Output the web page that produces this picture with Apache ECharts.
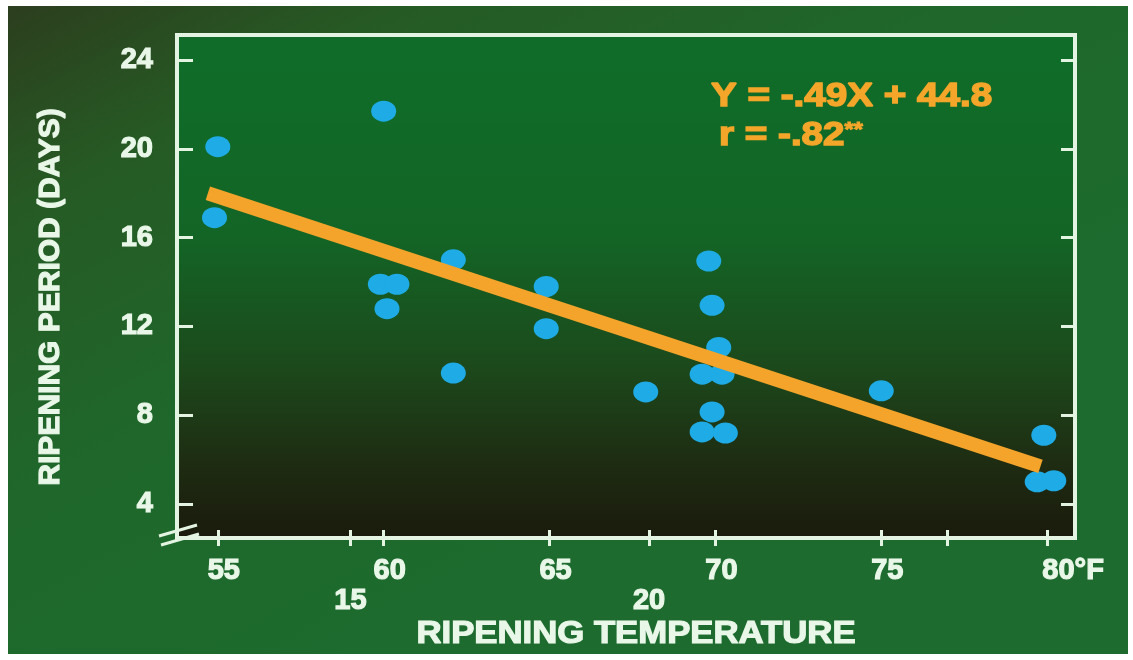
<!DOCTYPE html>
<html><head><meta charset="utf-8">
<script src="https://cdn.jsdelivr.net/npm/echarts@6/dist/echarts.min.js"></script>
<style>html,body{margin:0;padding:0;background:#fff}#c{width:1133px;height:660px}</style>
</head><body><div id="c"></div>
<script>
// Data
const tempF = [55.0, 54.9, 60.0, 59.9, 60.4, 60.1, 62.1, 62.1, 64.9, 64.9, 67.9, 69.8, 69.9, 70.1, 69.6, 70.2, 69.9, 69.6, 70.3, 75.0, 79.9, 79.7, 80.2];
const days  = [20.1, 16.9, 21.7, 13.9, 13.9, 12.8, 15.0, 9.9, 13.8, 11.9, 9.05, 14.95, 12.95, 11.05, 9.85, 9.85, 8.15, 7.25, 7.2, 9.1, 7.1, 5.0, 5.05];
const fitX = [54.7, 79.8];
const fitY = [18.0, 5.7];
const fTicks = [55, 59, 60, 65, 68, 70, 75, 77, 80];
const fLabels = [55, 60, 65, 70, 75, 80];
const cLabelsAt = [59, 68];
const cLabelText = {59: '15', 68: '20'};
const yTicks = [4, 8, 12, 16, 20, 24];
const equation = 'Y = -.49X + 44.8';
const rText = 'r = -.82';
const rStars = '**';
const xTitle = 'RIPENING TEMPERATURE';
const yTitle = 'RIPENING PERIOD (DAYS)';

const FONT = '"Liberation Sans", Arial, sans-serif';
const TXT = '#e9f7e8';
const AX = '#e4f4e2';
const ORANGE = '#f3a629';

const chart = echarts.init(document.getElementById('c'));
const points = tempF.map((x, i) => [x, days[i]]);
const fit = fitX.map((x, i) => [x, fitY[i]]);

const lblBase = {fontFamily: FONT, fontWeight: 'bold', fontSize: 29, color: TXT,
  textBorderColor: TXT, textBorderWidth: 1.2};

chart.setOption({
  backgroundColor: '#ffffff',
  animation: false,
  graphic: [
    {type: 'rect', z: -10, silent: true, shape: {x: 8, y: 6, width: 1120, height: 648},
      style: {fill: new echarts.graphic.LinearGradient(0, 0, 0.3, 1, [
        {offset: 0, color: '#2c3e1e'}, {offset: 0.25, color: '#265a24'},
        {offset: 0.6, color: '#1f672b'}, {offset: 1, color: '#1d6b2e'}])}},
    {type: 'text', x: 711, y: 97, scaleX: 1.17, z: 20, style: {text: equation, fill: ORANGE,
      font: 'bold 33px ' + FONT, verticalAlign: 'middle', stroke: ORANGE, lineWidth: 1.5}},
    {type: 'text', x: 719, y: 136, scaleX: 1.17, z: 20, style: {text: '{a|' + rText + '}{s|' + rStars + '}',
      verticalAlign: 'middle',
      rich: {a: {font: 'bold 33px ' + FONT, fill: ORANGE, stroke: ORANGE, lineWidth: 1.5},
             s: {font: 'bold 20px ' + FONT, fill: ORANGE, stroke: ORANGE, lineWidth: 1, padding: [0, 0, 12, 0]}}}},
    {type: 'text', x: 636, y: 634, scaleX: 1.12, z: 20, style: {text: xTitle, fill: TXT,
      font: 'bold 31px ' + FONT, align: 'center', verticalAlign: 'middle',
      stroke: TXT, lineWidth: 1.2}},
    {type: 'text', x: 51, y: 297, rotation: Math.PI / 2, z: 20, style: {text: yTitle, fill: TXT,
      font: 'bold 30px ' + FONT, align: 'center', verticalAlign: 'middle',
      stroke: TXT, lineWidth: 1.2}},
    {type: 'line', z: 20, shape: {x1: 159, y1: 536, x2: 197, y2: 525},
      style: {stroke: AX, lineWidth: 3}},
    {type: 'line', z: 20, shape: {x1: 161, y1: 545, x2: 199, y2: 534},
      style: {stroke: AX, lineWidth: 3}}
  ],
  grid: {left: 177, right: 58, top: 35, bottom: 122, show: true,
    borderColor: AX, borderWidth: 4,
    backgroundColor: new echarts.graphic.LinearGradient(0, 0, 0, 1, [
      {offset: 0, color: '#0f6d29'}, {offset: 0.4, color: '#136526'},
      {offset: 0.65, color: '#1c4a1c'}, {offset: 0.85, color: '#1e2c12'},
      {offset: 1, color: '#1a1a0c'}])},
  xAxis: [
    {type: 'value', min: 53.77, max: 80.84, position: 'bottom',
      axisLine: {show: true, lineStyle: {color: AX, width: 4}},
      splitLine: {show: false},
      axisTick: {show: true, inside: true, length: 8, customValues: fTicks,
        lineStyle: {color: AX, width: 3}},
      axisLabel: {show: true, customValues: fLabels, margin: 18,
        formatter: v => v === 80 ? '{e|80°F}' : '{n|' + v + '}',
        rich: {n: Object.assign({}, lblBase, {padding: [0, 0, 0, 12]}),
               e: Object.assign({}, lblBase, {padding: [0, 0, 0, 52]})}}},
    {type: 'value', min: 53.77, max: 80.84, position: 'bottom',
      axisLine: {show: false}, splitLine: {show: false},
      axisTick: {show: true, inside: false, length: 8, customValues: fTicks,
        lineStyle: {color: AX, width: 3}},
      axisLabel: {show: true, customValues: cLabelsAt, margin: 48,
        formatter: v => cLabelText[v] || '', ...lblBase}}
  ],
  yAxis: [
    {type: 'value', min: 2.47, max: 25.13, position: 'left',
      axisLine: {show: true, lineStyle: {color: AX, width: 4}},
      splitLine: {show: false},
      axisTick: {show: true, inside: true, length: 16, customValues: yTicks,
        lineStyle: {color: AX, width: 3}},
      axisLabel: {show: true, customValues: yTicks, margin: 24, ...lblBase}},
    {type: 'value', min: 2.47, max: 25.13, position: 'right',
      axisLine: {show: true, lineStyle: {color: AX, width: 4}},
      splitLine: {show: false},
      axisTick: {show: true, inside: true, length: 14, customValues: yTicks,
        lineStyle: {color: AX, width: 3}},
      axisLabel: {show: false}}
  ],
  series: [
    {type: 'scatter', data: points, symbol: 'circle', symbolSize: [25, 21], z: 3,
      itemStyle: {color: '#1eabe6', opacity: 1}},
    {type: 'line', data: fit, symbol: 'none', z: 4, silent: true,
      lineStyle: {color: '#f4a42a', width: 14, cap: 'butt'}}
  ]
});
</script></body></html>
